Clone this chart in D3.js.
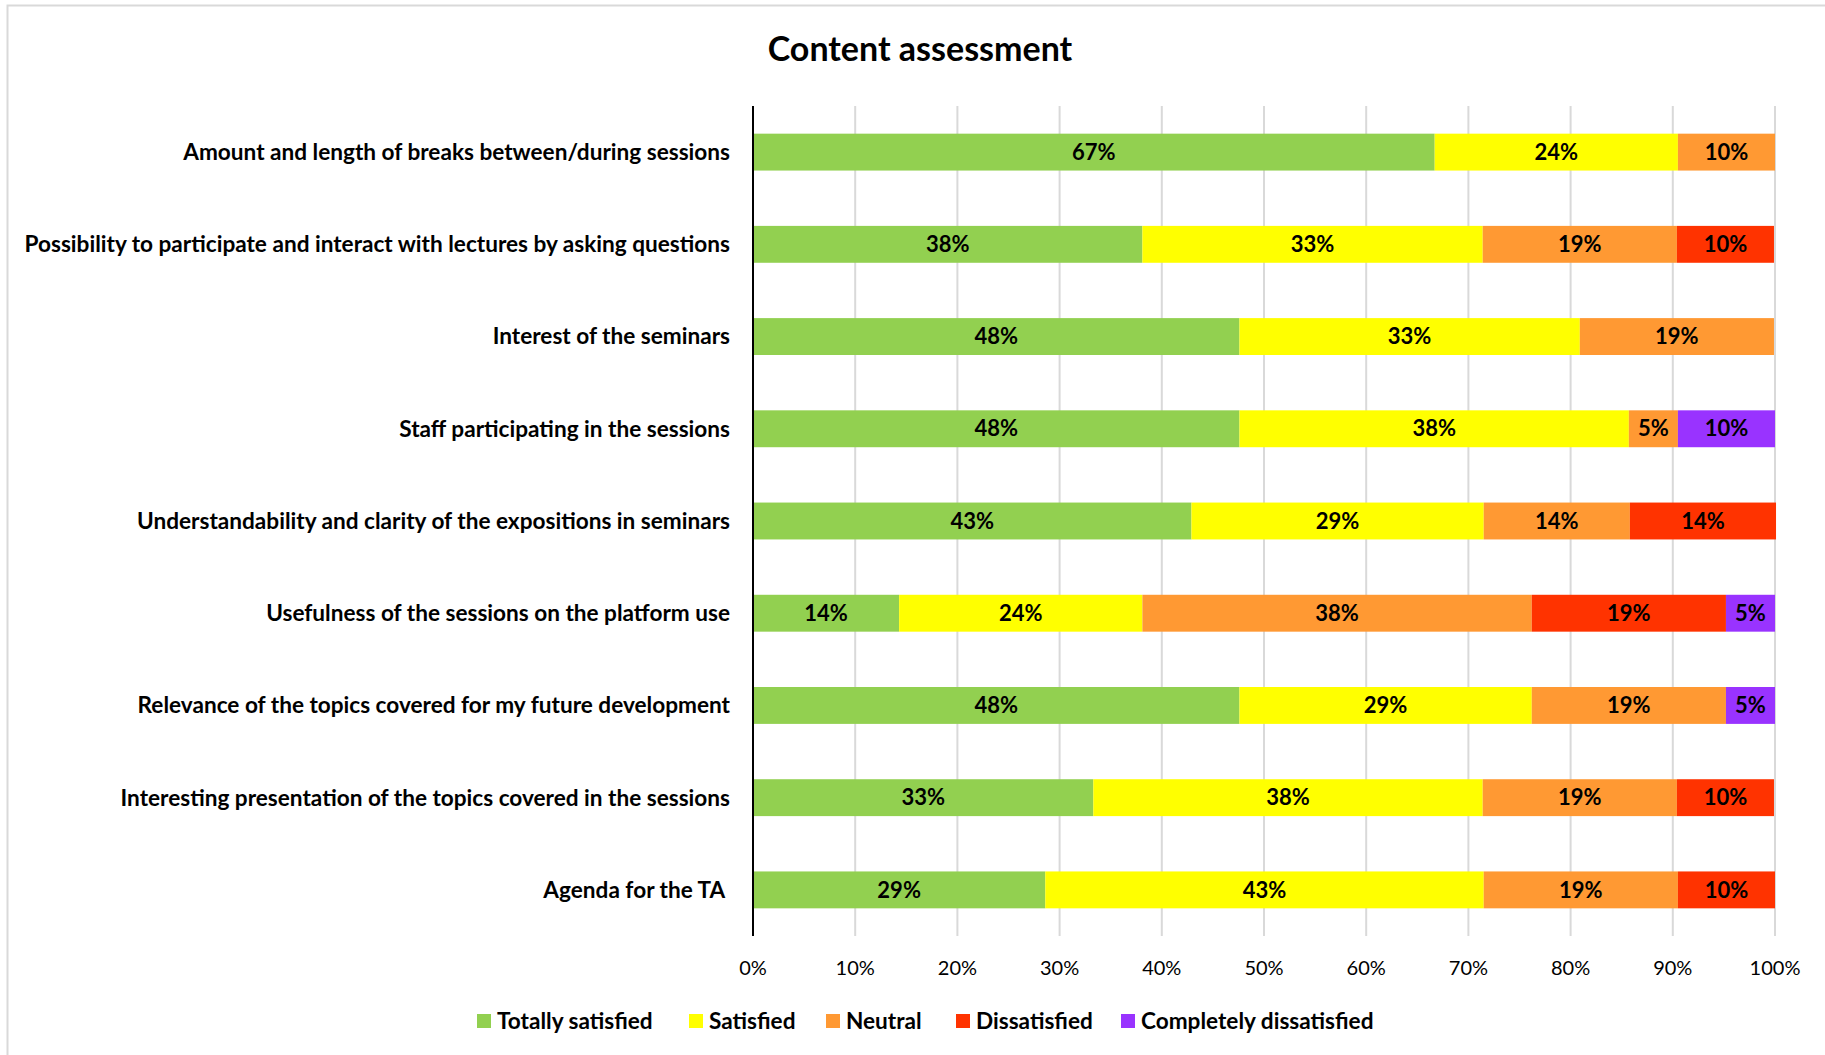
<!doctype html>
<html>
<head>
  <meta charset="utf-8">
  <title>Content assessment</title>
  <script src="https://d3js.org/d3.v7.min.js"></script>
  <style>
    body { margin: 0; background: #fff; }
    text { font-family: Lato, "Noto Sans", sans-serif; fill: #000; white-space: pre; }
  </style>
</head>
<body>
<div id="chart"></div>
<script>
// questions, top to bottom
var categories = [
  "Amount and length of breaks between/during sessions",
  "Possibility to participate and interact with lectures by asking questions",
  "Interest of the seminars",
  "Staff participating in the sessions",
  "Understandability and clarity of the expositions in seminars",
  "Usefulness of the sessions on the platform use",
  "Relevance of the topics covered for my future development",
  "Interesting presentation of the topics covered in the sessions",
  "Agenda for the TA "
];

var seriesNames = ["Totally satisfied", "Satisfied", "Neutral", "Dissatisfied", "Completely dissatisfied"];
var seriesColors = ["#92d050", "#ffff00", "#ff9933", "#ff3300", "#9933ff"];

// percentages per question, one array per answer
var totallySatisfied      = [66.7, 38.1, 47.6, 47.6, 42.9, 14.3, 47.6, 33.3, 28.6];
var satisfied             = [23.8, 33.3, 33.3, 38.1, 28.6, 23.8, 28.6, 38.1, 42.9];
var neutral               = [ 9.5, 19.0, 19.0,  4.8, 14.3, 38.1, 19.0, 19.0, 19.0];
var dissatisfied          = [ 0.0,  9.5,  0.0,  0.0, 14.3, 19.0,  0.0,  9.5,  9.5];
var completelyDissatisfied= [ 0.0,  0.0,  0.0,  9.5,  0.0,  4.8,  4.8,  0.0,  0.0];

var xTicks = [0, 10, 20, 30, 40, 50, 60, 70, 80, 90, 100];

var W = 1825, H = 1055;
var margin = {top: 106, right: 50, bottom: 119, left: 753};
var width = 1775 - margin.left,
    height = 936 - margin.top;

var svg = d3.select("#chart").append("svg")
  .attr("width", W)
  .attr("height", H);

// outer frame
svg.append("rect")
  .attr("x", 7.5).attr("y", 5.5)
  .attr("width", W + 10).attr("height", H + 10)
  .style("fill", "none")
  .style("stroke", "#d9d9d9")
  .style("stroke-width", 2);

// title
svg.append("text")
  .attr("x", 920).attr("y", 61)
  .style("text-anchor", "middle")
  .style("font-size", "34px")
  .style("font-weight", "bold")
  .text("Content assessment");

var g = svg.append("g")
  .attr("transform", "translate(" + margin.left + "," + margin.top + ")");

var rows = categories.map(function(c, i) {
  return {
    cat: c,
    "Totally satisfied": totallySatisfied[i],
    "Satisfied": satisfied[i],
    "Neutral": neutral[i],
    "Dissatisfied": dissatisfied[i],
    "Completely dissatisfied": completelyDissatisfied[i]
  };
});

var x = d3.scaleLinear().domain([0, 100]).range([0, width]);
var y = d3.scaleBand().domain(categories).range([0, height]).paddingInner(0.6).paddingOuter(0.3);
var color = d3.scaleOrdinal().domain(seriesNames).range(seriesColors);

// vertical gridlines
g.append("g")
  .selectAll("line")
  .data(xTicks.slice(1))
  .enter()
  .append("line")
    .attr("x1", function(d) { return x(d); })
    .attr("x2", function(d) { return x(d); })
    .attr("y1", 0)
    .attr("y2", height)
    .style("stroke", "#d9d9d9")
    .style("stroke-width", 2);

var stacked = d3.stack().keys(seriesNames)(rows);

var layer = g.append("g")
  .selectAll("g")
  .data(stacked)
  .enter()
  .append("g")
    .style("fill", function(d) { return color(d.key); });

layer.selectAll("rect")
  .data(function(d) { return d; })
  .enter()
  .append("rect")
    .attr("x", function(d) { return x(d[0]); })
    .attr("y", function(d) { return y(d.data.cat); })
    .attr("width", function(d) { return x(d[1]) - x(d[0]); })
    .attr("height", y.bandwidth());

// labels in segments
layer.selectAll("text")
  .data(function(d) { return d.filter(function(p) { return p[1] - p[0] > 0; }); })
  .enter()
  .append("text")
    .attr("x", function(d) { return (x(d[0]) + x(d[1])) / 2; })
    .attr("y", function(d) { return y(d.data.cat) + y.bandwidth() / 2; })
    .attr("dy", "0.35em")
    .style("text-anchor", "middle")
    .style("font-size", "22px")
    .style("font-weight", "bold")
    .style("fill", "#000")
    .text(function(d) { return Math.round(d[1] - d[0]) + "%"; });

// y axis line and category labels
g.append("line")
  .attr("x1", 0).attr("x2", 0)
  .attr("y1", 0).attr("y2", height)
  .style("stroke", "#000")
  .style("stroke-width", 2);

g.append("g")
  .selectAll("text")
  .data(categories)
  .enter()
  .append("text")
    .attr("x", -23)
    .attr("y", function(d) { return y(d) + y.bandwidth() / 2; })
    .attr("dy", "0.35em")
    .style("text-anchor", "end")
    .style("font-size", "22.6px")
    .style("font-weight", "bold")
    .text(function(d) { return d; });

// x tick labels
g.append("g")
  .selectAll("text")
  .data(xTicks)
  .enter()
  .append("text")
    .attr("x", function(d) { return x(d); })
    .attr("y", height + 32)
    .attr("dy", "0.35em")
    .style("text-anchor", "middle")
    .style("font-size", "20px")
    .text(function(d) { return d + "%"; });

// legend
var legendX = [477, 689, 826, 956, 1121];
var legend = svg.append("g")
  .selectAll("g")
  .data(seriesNames)
  .enter()
  .append("g")
    .attr("transform", function(d, i) { return "translate(" + legendX[i] + ",1021)"; });

legend.append("rect")
  .attr("x", 0).attr("y", -7)
  .attr("width", 14).attr("height", 14)
  .style("fill", function(d) { return color(d); });

legend.append("text")
  .attr("x", 20)
  .attr("dy", "0.35em")
  .style("font-size", "22.6px")
  .style("font-weight", "bold")
  .text(function(d) { return d; });
</script>
</body>
</html>
